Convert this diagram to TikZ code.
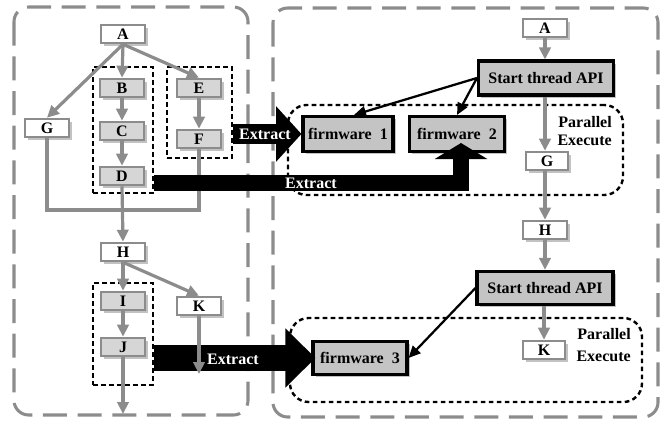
\documentclass[tikz,border=0pt]{standalone}
\usepackage{fontspec}
\setmainfont{Liberation Serif}
\usetikzlibrary{arrows.meta,calc,shadows}
\definecolor{edgegray}{HTML}{8C8C8C}
\definecolor{boxgray}{HTML}{D6D6D6}
\definecolor{apigray}{HTML}{C4C4C4}
\definecolor{shadowgray}{HTML}{A8A8A8}

\begin{document}
\begin{tikzpicture}[x=0.75pt,y=-0.75pt,
  font=\bfseries\fontsize{12}{13}\selectfont,
  shadowed/.style={drop shadow={shadow xshift=2pt,shadow yshift=-2pt,fill=shadowgray,opacity=0.7}},
  letter/.style={shadowed,draw=edgegray,line width=1.9pt,fill=white,
    minimum width=33pt,minimum height=13.5pt,inner sep=0pt},
  shaded/.style={letter,fill=boxgray},
  api/.style={shadowed,draw=black,line width=2.3pt,fill=apigray,inner sep=0pt},
  group/.style={draw=black,line width=1.8pt,dash pattern=on 3.5pt off 2.5pt,inner sep=0pt},
  parbox/.style={group,rounded corners=14pt},
  panel/.style={draw=edgegray,line width=2.3pt,dash pattern=on 18pt off 8pt,rounded corners=11pt},
  flow/.style={draw=edgegray,line width=2.4pt,-{Triangle[length=9pt,width=8.5pt]}},
  plain/.style={draw=edgegray,line width=2.4pt},
  spawn/.style={draw=black,line width=1.7pt,-{Triangle[length=9pt,width=8pt]}},
  extract/.style={draw=black,line join=miter},
  extlabel/.style={text=white,inner sep=0pt},
  note/.style={align=right,inner sep=0pt,anchor=east}
]
\useasboundingbox (0,0) rectangle (669,421);

% the two panels
\draw[panel] (14,7) rectangle (248,415);
\draw[panel] (273,8) rectangle (658,417);

% grouping boxes
\node[group,minimum width=45pt,minimum height=94.5pt] (bcd) at (123,130) {};
\node[group,minimum width=48.75pt,minimum height=68.25pt] (ef) at (199.5,112.5) {};
\node[group,minimum width=45pt,minimum height=76.5pt] (ij) at (123,334) {};
\node[parbox,minimum width=251.25pt,minimum height=67.5pt] (pe1) at (455.5,150) {};
\node[parbox,minimum width=264pt,minimum height=63pt] (pe2) at (466,360) {};

% left panel: original control flow
\node[letter] (A) at (123,34) {A};
\node[shaded] (B) at (122,88) {B};
\node[shaded] (C) at (122,131) {C};
\node[shaded] (D) at (122,176) {D};
\node[shaded] (E) at (199,88) {E};
\node[shaded] (F) at (199,139) {F};
\node[letter] (G) at (47,128) {G};
\node[letter] (H) at (123,252) {H};
\node[shaded] (I) at (123,301) {I};
\node[shaded] (J) at (123,347) {J};
\node[letter] (K) at (199,306) {K};
\coordinate (join) at (123,210);
\coordinate (jend) at (123,414);
\coordinate (kend) at (199,374);

% right panel: parallel flow
\node[letter] (A2) at (545,28) {A};
\node[api,minimum width=101.25pt,minimum height=25.5pt] (S1) at (546,78) {Start thread API};
\node[api,minimum width=67.5pt,minimum height=26.25pt] (fw1) at (348,134) {firmware\ \ 1};
\node[api,minimum width=71.25pt,minimum height=26.25pt] (fw2) at (457,134) {firmware\ \ 2};
\node[letter,minimum width=31.5pt] (G2) at (547,161) {G};
\node[letter] (H2) at (545,230) {H};
\node[api,minimum width=102pt,minimum height=25pt] (S2) at (545,288) {Start thread API};
\node[letter,minimum width=31.5pt] (K2) at (544,350) {K};
\node[api,minimum width=70.5pt,minimum height=25pt] (fw3) at (360,358) {firmware\ \ 3};
\node[note] (pl1) at (612,131) {Parallel\\Execute};
\node[note,font=\bfseries\fontsize{12}{16}\selectfont] (pl2) at (631,345) {Parallel\\Execute};

% left connectors
\draw[flow] (A.south) -- (B.north);
\draw[flow] (A.south) -- (G.north);
\draw[flow] (A.south) -- (E.north);
\draw[flow] (B.south) -- (C.north);
\draw[flow] (C.south) -- (D.north);
\draw[flow] (E.south) -- (F.north);
\draw[plain] (G.south) |- (join) -| (F.south);
\draw[flow] (D.south) -- (H.north);
\draw[flow] (H.south) -- (I.north);
\draw[flow] (H.south) -- (K.north);
\draw[flow] (I.south) -- (J.north);
\draw[flow] (J.south) -- (jend);

% right connectors
\draw[flow] (A2.south) -- (S1.north -| A2.south);
\draw[flow] (S1.south -| A2.south) -- (G2.north -| A2.south);
\draw[flow] (G2.south -| A2.south) -- (H2.north);
\draw[flow] (H2.south) -- (S2.north -| H2.south);
\draw[flow] (S2.south -| K2.north) -- (K2.north);
\draw[spawn] (S1.west) -- ($(fw1.north)+(6,0)$);
\draw[spawn] (S1.west) -- (fw2.north);
\draw[spawn] (S2.west) -- (fw3.east);

% extraction arrows
\draw[extract,line width=15pt,-{Triangle[length=19pt,width=40.5pt]}]
  (ef.east |- fw1.west) -- (fw1.west);
\draw[extract,line width=12.5pt,-{Triangle[length=12pt,width=39pt]}]
  ($(bcd.east |- D.east)+(0,7)$) -| ($(fw2.south)+(4,-10)$);
\draw[extract,line width=20pt,-{Triangle[length=22.5pt,width=43pt]}]
  (ij.east |- fw3.west) -- ($(fw3.west)+(4,0)$);
\draw[flow] (K.south) -- (kend);
\node[extlabel] (x1) at (265,134) {Extract};
\node[extlabel] (x2) at (311,183) {Extract};
\node[extlabel] (x3) at (233,359) {Extract};
\end{tikzpicture}
\end{document}
